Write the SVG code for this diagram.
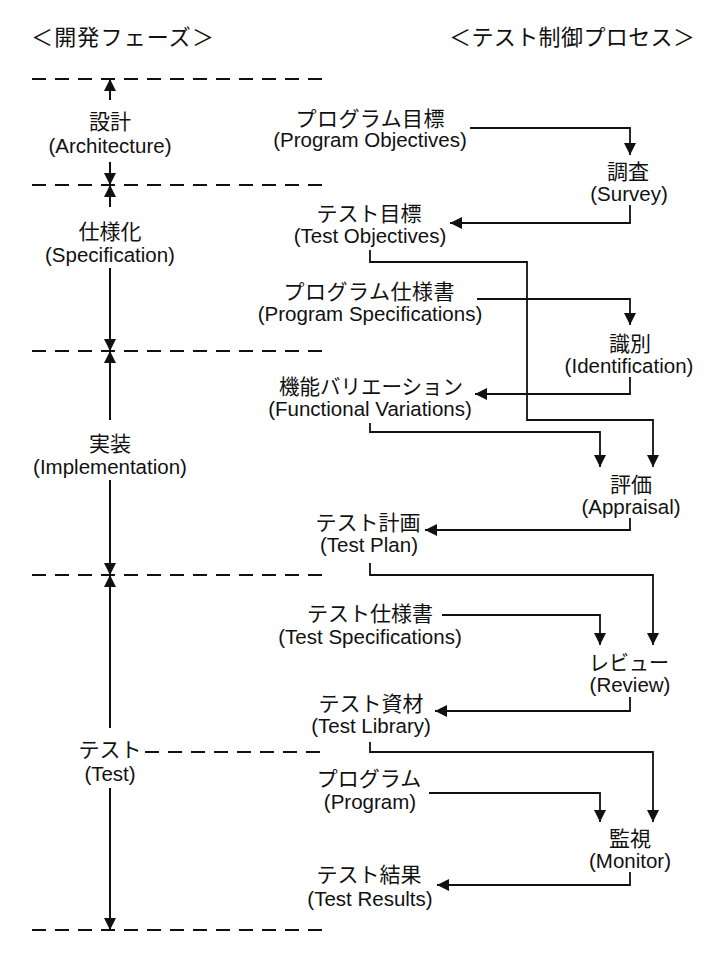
<svg xmlns="http://www.w3.org/2000/svg" width="710" height="955" viewBox="0 0 710 955">
<style>
text{font-family:"Liberation Sans","Noto Sans CJK JP",sans-serif;fill:#111;text-anchor:middle}
.jp{font-size:21px}
.en{font-size:20.5px}
.title{font-size:22px;text-anchor:start}
.dash{stroke:#111;stroke-width:2;stroke-dasharray:14 9;fill:none}
.phase{stroke:#111;stroke-width:2;fill:none;marker-end:url(#ah)}
.conn{stroke:#111;stroke-width:1.8;fill:none;marker-end:url(#ah)}
</style>
<defs>
<marker id="ah" markerUnits="userSpaceOnUse" markerWidth="12" markerHeight="12" refX="12" refY="6" orient="auto"><path d="M0,0 L12,6 L0,12 z" fill="#111"/></marker>
</defs>
<rect width="710" height="955" fill="#fff"/>
<g id="titles">
<text class="title" x="31" y="45" textLength="183" lengthAdjust="spacing">＜開発フェーズ＞</text>
<text class="title" x="449" y="45" textLength="246" lengthAdjust="spacing">＜テスト制御プロセス＞</text>
</g>
<g id="boundaries">
<path class="dash" d="M32,79 H323"/>
<path class="dash" d="M32,185 H323"/>
<path class="dash" d="M32,351 H323"/>
<path class="dash" d="M32,575 H323"/>
<path class="dash" d="M32,930 H323"/>
<path class="dash" d="M145,752 H322"/>
</g>
<g id="phase-design"><text class="jp" x="110" y="129">設計</text><text class="en" x="110" y="153">(Architecture)</text></g>
<g id="phase-spec"><text class="jp" x="110" y="239">仕様化</text><text class="en" x="110" y="262">(Specification)</text></g>
<g id="phase-impl"><text class="jp" x="110" y="451">実装</text><text class="en" x="110" y="474">(Implementation)</text></g>
<g id="phase-test"><text class="jp" x="110" y="757">テスト</text><text class="en" x="110" y="781">(Test)</text></g>
<g id="n-program-objectives"><text class="jp" x="370" y="126" textLength="149" lengthAdjust="spacing">プログラム目標</text><text class="en" x="370" y="147">(Program Objectives)</text></g>
<g id="n-survey"><text class="jp" x="628" y="179">調査</text><text class="en" x="629" y="201">(Survey)</text></g>
<g id="n-test-objectives"><text class="jp" x="369" y="221">テスト目標</text><text class="en" x="370" y="243">(Test Objectives)</text></g>
<g id="n-program-spec"><text class="jp" x="369" y="299" textLength="171" lengthAdjust="spacing">プログラム仕様書</text><text class="en" x="370" y="321">(Program Specifications)</text></g>
<g id="n-identification"><text class="jp" x="630" y="351">識別</text><text class="en" x="629" y="373">(Identification)</text></g>
<g id="n-functional-variations"><text class="jp" x="371" y="394" textLength="184" lengthAdjust="spacingAndGlyphs">機能バリエーション</text><text class="en" x="370" y="416">(Functional Variations)</text></g>
<g id="n-appraisal"><text class="jp" x="631" y="492">評価</text><text class="en" x="631" y="514">(Appraisal)</text></g>
<g id="n-test-plan"><text class="jp" x="368" y="530">テスト計画</text><text class="en" x="369" y="552">(Test Plan)</text></g>
<g id="n-test-spec"><text class="jp" x="370" y="621">テスト仕様書</text><text class="en" x="370" y="644">(Test Specifications)</text></g>
<g id="n-review"><text class="jp" x="629" y="670" textLength="80" lengthAdjust="spacingAndGlyphs">レビュー</text><text class="en" x="630" y="692">(Review)</text></g>
<g id="n-test-library"><text class="jp" x="371" y="711">テスト資材</text><text class="en" x="371" y="733">(Test Library)</text></g>
<g id="n-program"><text class="jp" x="369" y="786">プログラム</text><text class="en" x="370" y="809">(Program)</text></g>
<g id="n-monitor"><text class="jp" x="630" y="846">監視</text><text class="en" x="630" y="868">(Monitor)</text></g>
<g id="n-test-results"><text class="jp" x="369" y="882">テスト結果</text><text class="en" x="370" y="906">(Test Results)</text></g>
<g id="connectors">
<path class="phase" d="M110,100 V79"/>
<path class="phase" d="M110,162 V185"/>
<path class="phase" d="M110,207 V185"/>
<path class="phase" d="M110,268 V351"/>
<path class="phase" d="M110,420 V351"/>
<path class="phase" d="M110,480 V575"/>
<path class="phase" d="M110,728 V575"/>
<path class="phase" d="M110,788 V930"/>
<path class="conn" d="M470,128 H630 V155"/>
<path class="conn" d="M630,205 V223 H450"/>
<path class="conn" d="M370,250 V262 H527 V420 H653 V467"/>
<path class="conn" d="M477,299 H630 V325"/>
<path class="conn" d="M630,377 V394 H475"/>
<path class="conn" d="M370,423 V432 H600 V467"/>
<path class="conn" d="M630,518 V530 H425"/>
<path class="conn" d="M370,563 V575 H653 V645"/>
<path class="conn" d="M442,615 H600 V645"/>
<path class="conn" d="M630,697 V711 H435"/>
<path class="conn" d="M370,742 V752 H653 V822"/>
<path class="conn" d="M429,793 H600 V822"/>
<path class="conn" d="M630,872 V885 H437"/>
</g>
</svg>
